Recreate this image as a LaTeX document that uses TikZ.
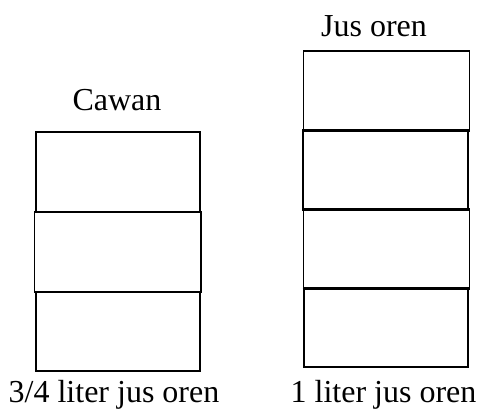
\documentclass[tikz,border=0pt]{standalone}
\usepackage{fontspec}
\setmainfont{Liberation Serif}
\begin{document}
\begin{tikzpicture}[x=1pt,y=-1pt,
  cell/.style={draw=black,line width=1.6pt,inner sep=0pt,fill=none},
  lbl/.style={anchor=base,inner sep=0pt,font=\fontsize{32}{38}\selectfont}]
\useasboundingbox (0,0) rectangle (480,409);
% left stack (Cawan)
\node[cell,minimum width=164pt,minimum height=79.7pt] (l1) at (118,172.15) {};
\node[cell,minimum width=164pt,minimum height=79pt] (l3) at (118,331.5) {};
\node[cell,minimum width=166.4pt,minimum height=80pt] (l2) at (117.5,252) {};
% right stack (Jus oren)
\node[cell,minimum width=166pt,minimum height=79pt] (r1) at (386.3,90.5) {};
\node[cell,minimum width=166pt,minimum height=78.3pt] (r3) at (386.3,249.15) {};
\node[cell,minimum width=163.7pt,minimum height=78.7pt] (r4) at (385.85,327.35) {};
\node[cell,minimum width=165pt,minimum height=80pt] (r2) at (385.2,170) {};
\draw[line width=2.4pt] (r1.south west) -- (r1.south east);
\draw[line width=2.4pt] (r3.north west) -- (r3.north east);
\draw[line width=2.4pt] (r3.south west) -- (r3.south east);
% labels
\node[lbl] (cawan) at (117,111) {Cawan};
\node[lbl] (jus) at (374,37) {Jus oren};
\node[lbl] (lbot) at (114,402) {3/4 liter jus oren};
\node[lbl] (rbot) at (383.5,402) {1 liter jus oren};
\end{tikzpicture}
\end{document}
